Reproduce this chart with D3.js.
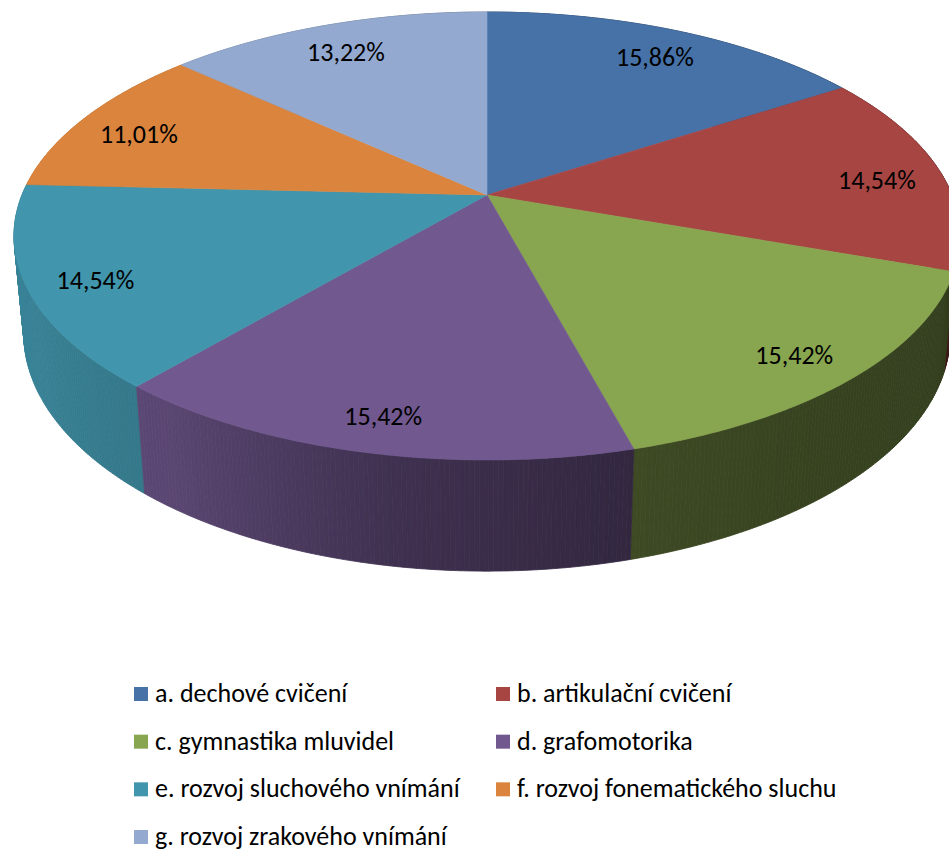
<!DOCTYPE html>
<html>
<head>
<meta charset="utf-8">
<script src="https://cdn.jsdelivr.net/npm/d3@7"></script>
<style>
  html, body { margin: 0; padding: 0; background: #ffffff; }
  svg { display: block; }
  text { font-family: Calibri, Carlito, Lato, sans-serif; fill: #000; }
</style>
</head>
<body>
<svg id="chart" width="949" height="849"></svg>
<script>
// ---- data ----
const categories = [
  "a. dechové cvičení",
  "b. artikulační cvičení",
  "c. gymnastika mluvidel",
  "d. grafomotorika",
  "e. rozvoj sluchového vnímání",
  "f. rozvoj fonematického sluchu",
  "g. rozvoj zrakového vnímání"
];
const values = [15.86, 14.54, 15.42, 15.42, 14.54, 11.01, 13.22];
const colors = ["#4672A8", "#A74543", "#88A54F", "#71588F", "#4195AC", "#DB843D", "#93A9CF"];

// ---- geometry (3D perspective pie) ----
const W = 949, H = 849;
const cx = 487, cy = 195;      // projected pie centre
const A = 465, B = 216.5;      // horizontal / vertical radii scale
const persp = 0.183;           // perspective strength
const vanish = [487, 5000];    // vanishing point of vertical edges
const depthK = 0.02;           // thickness factor
const labelR = 0.86, labelDy = 6;

function proj(theta, r) {
  const u = r * Math.sin(theta), v = -r * Math.cos(theta);
  const w = 1 - persp * v;
  return { x: cx + A * u / w, y: cy + B * v / w, v: v, w: w };
}
function projBottom(theta, r) {
  const p = proj(theta, r);
  const t = depthK / p.w;
  return { x: p.x + t * (vanish[0] - p.x), y: p.y + t * (vanish[1] - p.y), v: p.v };
}

const svg = d3.select("#chart");
svg.append("rect").attr("width", W).attr("height", H).attr("fill", "#fff");

const arcs = d3.pie().sort(null).value(d => d)(values);

// shading of the side wall by angle (degrees, clockwise from top)
const shade = d3.scaleLinear()
  .domain([0, 90, 140, 166, 190, 215, 250, 280, 360])
  .range([0.5, 0.36, 0.40, 0.45, 0.56, 0.79, 0.88, 0.9, 0.6])
  .clamp(true);

// side wall segments
const segs = [];
arcs.forEach((a, i) => {
  const span = a.endAngle - a.startAngle;
  const n = Math.max(2, Math.ceil(span / (Math.PI / 360)));
  for (let k = 0; k < n; k++) {
    const t0 = a.startAngle + span * k / n;
    const t1 = a.startAngle + span * (k + 1) / n;
    const p0 = proj(t0, 1), p1 = proj(t1, 1);
    const b0 = projBottom(t0, 1), b1 = projBottom(t1, 1);
    const mid = (t0 + t1) / 2;
    const f = shade(mid * 180 / Math.PI);
    const c = d3.rgb(colors[i]);
    const col = d3.rgb(c.r * f, c.g * f, c.b * f).formatHex();
    segs.push({ pts: [p0, p1, b1, b0], depth: -Math.cos(mid), col });
  }
});
segs.sort((a, b) => a.depth - b.depth);

const line = d3.line().x(d => d.x).y(d => d.y);
svg.append("g").selectAll("path").data(segs).join("path")
  .attr("d", d => line(d.pts) + "Z")
  .attr("fill", d => d.col)
  .attr("stroke", d => d.col)
  .attr("stroke-width", 0.8);

// top faces
svg.append("g").selectAll("path").data(arcs).join("path")
  .attr("d", (a) => {
    const span = a.endAngle - a.startAngle;
    const n = Math.ceil(span / (Math.PI / 360));
    const pts = [{ x: cx, y: cy }];
    for (let k = 0; k <= n; k++) pts.push(proj(a.startAngle + span * k / n, 1));
    return line(pts) + "Z";
  })
  .attr("fill", (a, i) => colors[i])
  .attr("stroke", (a, i) => colors[i])
  .attr("stroke-width", 0.6);

// data labels
const fmt = v => d3.format(".2f")(v).replace(".", ",") + "%";
svg.append("g").selectAll("text").data(arcs).join("text")
  .attr("x", a => proj((a.startAngle + a.endAngle) / 2, labelR).x)
  .attr("y", a => proj((a.startAngle + a.endAngle) / 2, labelR).y + labelDy)
  .attr("text-anchor", "middle")
  .attr("dominant-baseline", "central")
  .attr("font-size", 26)
  .text(a => fmt(a.data));

// legend
const colX = d3.scaleOrdinal().domain([0, 1]).range([134, 496]);
const rowY = d3.scaleLinear().domain([0, 3]).range([702, 845]);
const lg = svg.append("g").selectAll("g").data(categories).join("g")
  .attr("transform", (d, i) => `translate(${colX(i % 2)},${rowY(Math.floor(i / 2))})`);
lg.append("rect").attr("x", 0).attr("y", -15).attr("width", 14).attr("height", 14)
  .attr("fill", (d, i) => colors[i]);
lg.append("text").attr("x", 21).attr("y", 0).attr("font-size", 26).text(d => d);
</script>
</body>
</html>
